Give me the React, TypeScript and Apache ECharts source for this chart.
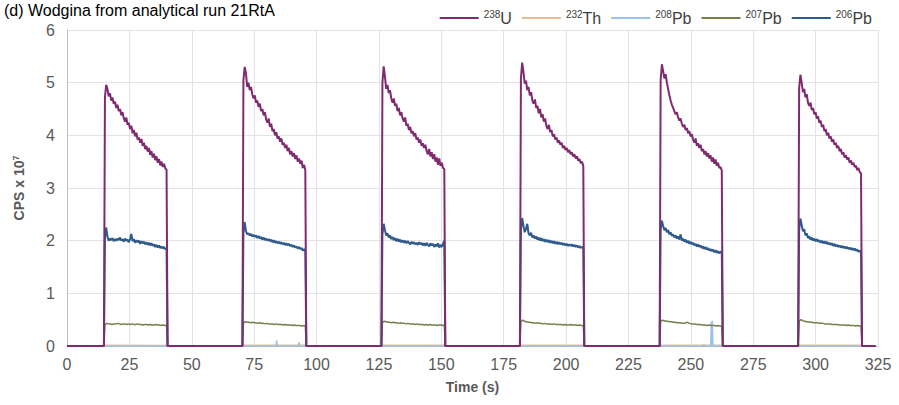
import React, { useEffect, useRef } from "react";
import * as echarts from "echarts";

// Time (s) at which each ablation pulse starts and ends
const pulseStart = [14.8, 70.3, 126.0, 181.5, 237.5, 293.0];
const pulseEnd = [40.3, 95.9, 151.6, 207.3, 262.8, 318.6];
const traceEnd = 324;

// 238U, CPS x 10^7, one array per pulse
const u238 = [
  [4.72, 4.96, 4.88, 4.74, 4.80, 4.66, 4.72, 4.60, 4.64, 4.52,
   4.58, 4.46, 4.50, 4.38, 4.44, 4.32, 4.26, 4.34, 4.20, 4.24,
   4.12, 4.18, 4.04, 4.10, 3.98, 4.05, 3.92, 3.96, 3.86, 3.93,
   3.80, 3.86, 3.74, 3.80, 3.69, 3.76, 3.63, 3.70, 3.58, 3.65,
   3.53, 3.60, 3.48, 3.55, 3.43, 3.50, 3.40, 3.46, 3.37, 3.35],
  [5.05, 5.30, 5.18, 4.92, 5.00, 4.86, 4.92, 4.78, 4.70, 4.76,
   4.62, 4.66, 4.54, 4.60, 4.46, 4.50, 4.38, 4.44, 4.30, 4.24,
   4.32, 4.16, 4.22, 4.08, 4.12, 4.00, 4.06, 3.94, 3.98, 3.88,
   3.94, 3.82, 3.86, 3.76, 3.82, 3.70, 3.76, 3.64, 3.70, 3.60,
   3.66, 3.55, 3.62, 3.50, 3.56, 3.46, 3.52, 3.38, 3.44, 3.34],
  [5.00, 5.31, 5.12, 4.88, 4.96, 4.80, 4.86, 4.70, 4.62, 4.70,
   4.56, 4.60, 4.46, 4.52, 4.38, 4.44, 4.32, 4.26, 4.34, 4.18,
   4.22, 4.10, 4.16, 4.04, 4.08, 3.98, 4.04, 3.92, 3.96, 3.86,
   3.92, 3.80, 3.85, 3.76, 3.82, 3.70, 3.64, 3.74, 3.60, 3.68,
   3.55, 3.64, 3.50, 3.58, 3.44, 3.56, 3.42, 3.48, 3.38, 3.36],
  [5.08, 5.38, 5.20, 4.98, 5.04, 4.86, 4.92, 4.76, 4.82, 4.66,
   4.60, 4.68, 4.52, 4.56, 4.42, 4.50, 4.34, 4.40, 4.26, 4.32,
   4.18, 4.12, 4.20, 4.06, 4.10, 3.98, 4.02, 3.92, 3.96, 3.86,
   3.90, 3.82, 3.86, 3.76, 3.80, 3.72, 3.76, 3.68, 3.72, 3.64,
   3.68, 3.60, 3.64, 3.56, 3.60, 3.52, 3.55, 3.47, 3.50, 3.42],
  [5.05, 5.35, 5.22, 5.08, 5.16, 5.00, 4.88, 4.76, 4.66, 4.58,
   4.52, 4.46, 4.40, 4.44, 4.34, 4.28, 4.32, 4.22, 4.16, 4.20,
   4.10, 4.14, 4.04, 4.08, 3.98, 4.02, 3.92, 3.86, 3.94, 3.80,
   3.85, 3.76, 3.82, 3.70, 3.74, 3.64, 3.70, 3.60, 3.66, 3.56,
   3.62, 3.50, 3.58, 3.46, 3.54, 3.42, 3.48, 3.38, 3.40, 3.33],
  [4.90, 5.15, 5.00, 4.82, 4.88, 4.72, 4.78, 4.62, 4.56, 4.62,
   4.48, 4.52, 4.40, 4.44, 4.32, 4.36, 4.24, 4.28, 4.16, 4.20,
   4.08, 4.12, 4.00, 4.05, 3.94, 3.98, 3.88, 3.92, 3.82, 3.86,
   3.76, 3.80, 3.70, 3.74, 3.64, 3.68, 3.58, 3.62, 3.54, 3.58,
   3.48, 3.52, 3.44, 3.48, 3.40, 3.42, 3.34, 3.38, 3.30, 3.28],
];

// 206Pb
const pb206 = [
  [2.05, 2.25, 2.08, 2.00, 2.04, 2.01, 2.05, 1.99, 2.03, 2.00,
   2.04, 2.01, 2.06, 2.00, 2.03, 1.98, 2.04, 2.00, 2.02, 1.97,
   2.03, 2.13, 1.99, 2.03, 1.96, 2.01, 1.97, 2.00, 1.94, 1.99,
   1.95, 1.98, 1.93, 1.97, 1.92, 1.96, 1.91, 1.95, 1.90, 1.93,
   1.88, 1.92, 1.87, 1.91, 1.86, 1.89, 1.85, 1.88, 1.84, 1.83],
  [2.15, 2.35, 2.18, 2.12, 2.14, 2.10, 2.13, 2.08, 2.11, 2.07,
   2.10, 2.05, 2.09, 2.04, 2.07, 2.02, 2.06, 2.01, 2.04, 2.00,
   2.03, 1.99, 2.02, 1.97, 2.01, 1.96, 1.99, 1.95, 1.98, 1.94,
   1.97, 1.93, 1.96, 1.92, 1.95, 1.91, 1.94, 1.90, 1.92, 1.88,
   1.91, 1.87, 1.89, 1.85, 1.88, 1.84, 1.86, 1.81, 1.84, 1.80],
  [2.12, 2.32, 2.20, 2.10, 2.14, 2.06, 2.10, 2.03, 2.07, 2.01,
   2.05, 1.99, 2.04, 1.98, 2.02, 1.97, 2.01, 1.96, 2.00, 1.95,
   1.99, 1.96, 1.93, 1.98, 1.94, 1.97, 1.93, 1.96, 1.92, 1.97,
   1.93, 1.96, 1.91, 1.95, 1.90, 1.96, 1.92, 1.89, 1.95, 1.91,
   1.94, 1.88, 1.93, 1.89, 1.95, 1.87, 1.92, 1.88, 1.94, 2.00],
  [2.20, 2.43, 2.28, 2.16, 2.22, 2.32, 2.14, 2.10, 2.15, 2.06,
   2.10, 2.04, 2.08, 2.02, 2.06, 2.00, 2.05, 1.99, 2.03, 1.98,
   2.02, 1.97, 2.01, 1.96, 2.00, 1.95, 1.99, 1.94, 1.98, 1.93,
   1.97, 1.93, 1.96, 1.92, 1.95, 1.91, 1.94, 1.90, 1.93, 1.90,
   1.93, 1.89, 1.92, 1.88, 1.91, 1.87, 1.90, 1.86, 1.88, 1.87],
  [2.20, 2.38, 2.28, 2.20, 2.24, 2.16, 2.20, 2.12, 2.16, 2.09,
   2.12, 2.06, 2.10, 2.04, 2.08, 2.02, 2.12, 2.00, 2.04, 1.98,
   2.02, 1.96, 2.00, 1.94, 1.98, 1.93, 1.96, 1.91, 1.94, 1.89,
   1.93, 1.88, 1.91, 1.86, 1.89, 1.84, 1.88, 1.83, 1.86, 1.81,
   1.84, 1.80, 1.83, 1.78, 1.82, 1.77, 1.80, 1.76, 1.79, 1.78],
  [2.20, 2.42, 2.30, 2.18, 2.22, 2.10, 2.14, 2.05, 2.08, 2.02,
   2.06, 2.00, 2.04, 1.99, 2.03, 1.98, 2.01, 1.96, 2.00, 1.95,
   1.99, 1.94, 1.98, 1.93, 1.96, 1.92, 1.95, 1.90, 1.94, 1.89,
   1.92, 1.88, 1.91, 1.87, 1.90, 1.86, 1.89, 1.85, 1.88, 1.84,
   1.87, 1.83, 1.86, 1.82, 1.85, 1.81, 1.83, 1.79, 1.81, 1.78],
];

// 207Pb
const pb207 = [
  [0.40, 0.43, 0.42, 0.42, 0.41, 0.42, 0.42, 0.43, 0.42, 0.41, 0.42, 0.42, 0.41, 0.42, 0.41, 0.42, 0.41, 0.41, 0.42, 0.41, 0.41, 0.40, 0.41, 0.41, 0.40, 0.41, 0.40, 0.40, 0.41, 0.40, 0.40, 0.39, 0.40, 0.39, 0.39],
  [0.44, 0.46, 0.45, 0.45, 0.44, 0.45, 0.44, 0.44, 0.43, 0.44, 0.43, 0.43, 0.42, 0.43, 0.42, 0.42, 0.42, 0.41, 0.42, 0.41, 0.41, 0.41, 0.40, 0.41, 0.40, 0.40, 0.40, 0.39, 0.40, 0.39, 0.39, 0.39, 0.38, 0.39, 0.38],
  [0.45, 0.47, 0.46, 0.45, 0.45, 0.44, 0.45, 0.44, 0.44, 0.43, 0.44, 0.43, 0.43, 0.42, 0.43, 0.42, 0.42, 0.42, 0.41, 0.42, 0.41, 0.41, 0.41, 0.40, 0.41, 0.40, 0.41, 0.40, 0.40, 0.40, 0.39, 0.40, 0.40, 0.39, 0.40],
  [0.46, 0.49, 0.47, 0.46, 0.45, 0.45, 0.44, 0.44, 0.43, 0.44, 0.43, 0.43, 0.42, 0.43, 0.42, 0.42, 0.42, 0.41, 0.42, 0.41, 0.41, 0.41, 0.41, 0.40, 0.41, 0.40, 0.40, 0.41, 0.40, 0.40, 0.40, 0.39, 0.40, 0.39, 0.39],
  [0.47, 0.49, 0.48, 0.47, 0.47, 0.46, 0.46, 0.45, 0.45, 0.44, 0.44, 0.44, 0.43, 0.43, 0.44, 0.45, 0.43, 0.42, 0.42, 0.42, 0.41, 0.41, 0.41, 0.40, 0.40, 0.40, 0.39, 0.40, 0.39, 0.39, 0.39, 0.38, 0.39, 0.38, 0.38],
  [0.47, 0.50, 0.48, 0.47, 0.46, 0.46, 0.45, 0.45, 0.44, 0.44, 0.44, 0.43, 0.43, 0.43, 0.42, 0.42, 0.42, 0.42, 0.41, 0.41, 0.41, 0.41, 0.40, 0.40, 0.40, 0.40, 0.39, 0.40, 0.39, 0.39, 0.39, 0.38, 0.39, 0.38, 0.38],
];

// 232Th (near zero during each pulse)
const th232 = [
  [0.012, 0.010],
  [0.014, 0.012],
  [0.013, 0.012],
  [0.015, 0.013],
  [0.014, 0.012],
  [0.014, 0.012],
];

// 208Pb: spikes [time (s), CPS x 10^7]
const pb208Spikes = [
  [84.0, 0.11],
  [93.0, 0.07],
  [255.2, 0.03],
  [258.2, 0.46],
  [258.6, 0.48],
];

const seriesNames = ["238U", "232Th", "208Pb", "207Pb", "206Pb"];
const seriesLabels: Record<string, string> = {
  "238U": "{s|238}{n|U}",
  "232Th": "{s|232}{n|Th}",
  "208Pb": "{s|208}{n|Pb}",
  "207Pb": "{s|207}{n|Pb}",
  "206Pb": "{s|206}{n|Pb}",
};
const colors: Record<string, string> = {
  "238U": "#7e2b6f",
  "232Th": "#e6bd95",
  "208Pb": "#9cc2e5",
  "207Pb": "#74804b",
  "206Pb": "#2f5b8c",
};

const xTicks = { min: 0, max: 325, interval: 25 };
const yTicks = { min: 0, max: 6, interval: 1 };

function buildPulses(pulses: number[][]): number[][] {
  const out: number[][] = [[0, 0]];
  pulses.forEach((vals, i) => {
    const s = pulseStart[i];
    const e = pulseEnd[i];
    out.push([s, 0]);
    const t0 = s + 0.4;
    const t1 = e - 0.4;
    const dt = (t1 - t0) / (vals.length - 1);
    vals.forEach((v, j) => out.push([t0 + j * dt, v]));
    out.push([e, 0]);
  });
  out.push([traceEnd, 0]);
  return out;
}

function buildSpikes(spikes: number[][]): number[][] {
  const out: number[][] = [[0, 0]];
  spikes.forEach(([t, v]) => {
    out.push([t - 0.25, 0]);
    out.push([t, v]);
    out.push([t + 0.25, 0]);
  });
  out.push([traceEnd, 0]);
  return out;
}

const FONT = "'Liberation Sans', Arial, sans-serif";

export default function App() {
  const ref = useRef<HTMLDivElement>(null);
  useEffect(() => {
    if (!ref.current) return;
    const chart = echarts.init(ref.current, undefined, { renderer: "svg" });
    const mk = (name: string, data: number[][], width: number, z: number) => ({
      name,
      type: "line",
      data,
      showSymbol: false,
      symbol: "none",
      z,
      lineStyle: { color: colors[name], width },
      itemStyle: { color: colors[name] },
    });
    chart.setOption({
      animation: false,
      textStyle: { fontFamily: FONT },
      title: {
        text: "(d) Wodgina from analytical run 21RtA",
        left: -1,
        top: -3,
        textStyle: { fontSize: 16, fontWeight: "normal", color: "#000", fontFamily: FONT },
      },
      legend: {
        data: seriesNames,
        right: 22,
        top: 4,
        icon: "rect",
        itemWidth: 39,
        itemHeight: 2,
        itemGap: 10,
        formatter: (n: string) => seriesLabels[n],
        textStyle: {
          fontFamily: FONT,
          color: "#404040",
          rich: {
            s: { fontSize: 10, verticalAlign: "top", lineHeight: 18, color: "#404040", fontFamily: FONT },
            n: { fontSize: 16, lineHeight: 18, color: "#404040", fontFamily: FONT },
          },
        },
      },
      grid: { left: 67, right: 21, top: 30, bottom: 59 },
      xAxis: {
        type: "value",
        ...xTicks,
        name: "Time (s)",
        nameLocation: "middle",
        nameGap: 34,
        nameTextStyle: { fontSize: 14, fontWeight: "bold", color: "#595959", fontFamily: FONT },
        axisLine: { show: true, lineStyle: { color: "#bfbfbf" } },
        axisTick: { show: false },
        axisLabel: { fontSize: 16, color: "#595959", margin: 10, fontFamily: FONT },
        splitLine: { show: true, lineStyle: { color: "#e3e3e3", width: 1 } },
      },
      yAxis: {
        type: "value",
        ...yTicks,
        name: "CPS x 10{s|7}",
        nameLocation: "middle",
        nameGap: 40,
        nameRotate: 90,
        nameTextStyle: {
          fontSize: 14,
          fontWeight: "bold",
          color: "#595959",
          fontFamily: FONT,
          rich: {
            s: { fontSize: 9, fontWeight: "bold", verticalAlign: "top", lineHeight: 16, color: "#595959", fontFamily: FONT },
          },
        },
        axisLine: { show: true, lineStyle: { color: "#bfbfbf" } },
        axisTick: { show: false },
        axisLabel: { fontSize: 16, color: "#595959", margin: 12, fontFamily: FONT },
        splitLine: { show: true, lineStyle: { color: "#e3e3e3", width: 1 } },
      },
      series: [
        mk("232Th", buildPulses(th232), 1.5, 2),
        mk("208Pb", buildSpikes(pb208Spikes), 1.5, 3),
        mk("207Pb", buildPulses(pb207), 1.5, 4),
        mk("206Pb", buildPulses(pb206), 2, 5),
        mk("238U", buildPulses(u238), 2, 6),
      ],
    });
    return () => chart.dispose();
  }, []);
  return <div ref={ref} style={{ width: 899, height: 405, position: "absolute", left: 0, top: 0 }} />;
}
